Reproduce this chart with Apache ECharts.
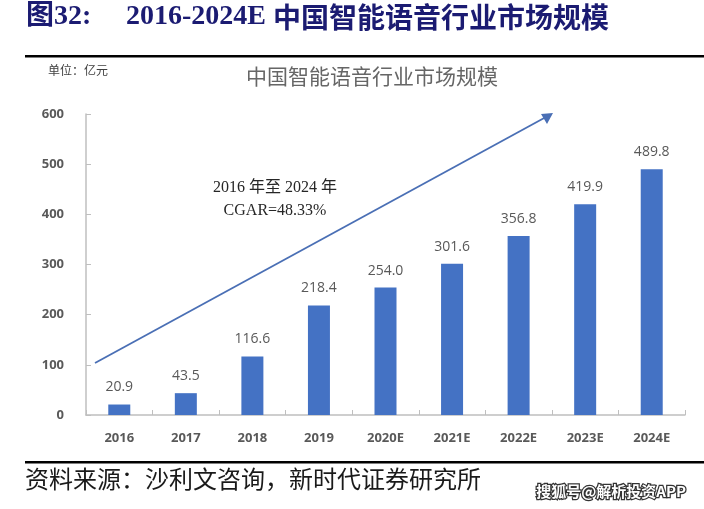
<!DOCTYPE html>
<html><head><meta charset="utf-8">
<script src="https://cdn.jsdelivr.net/npm/echarts@6/dist/echarts.min.js"></script>
<style>html,body{margin:0;padding:0;background:#fff}#c{width:704px;height:509px}</style>
</head><body><div id="c"></div>
<script>
const categories = ['2016','2017','2018','2019','2020E','2021E','2022E','2023E','2024E'];
const values = [20.9, 43.5, 116.6, 218.4, 254.0, 301.6, 356.8, 419.9, 489.8];
const yTicks = [0, 100, 200, 300, 400, 500, 600];

const chart = echarts.init(document.getElementById('c'));
chart.setOption({
  backgroundColor: '#fff',
  animation: false,
  grid: {left: 86, right: 19, top: 114, bottom: 94},
  xAxis: {
    type: 'category', data: categories,
    axisLine: {lineStyle: {color: '#bfbfbf', width: 1.5}},
    axisTick: {show: true, inside: true, length: 5, lineStyle: {color: '#bfbfbf'}},
    axisLabel: {color: '#595959', fontWeight: 'bold', fontSize: 13, margin: 17, fontFamily: 'Open Sans, Noto Sans, sans-serif'}
  },
  yAxis: {
    type: 'value', min: 0, max: 600, interval: 100,
    axisLine: {show: true, lineStyle: {color: '#bfbfbf', width: 1.5}},
    axisTick: {show: true, inside: true, length: 5, lineStyle: {color: '#bfbfbf'}},
    splitLine: {show: false},
    axisLabel: {color: '#595959', fontWeight: 'bold', fontSize: 13, margin: 22, fontFamily: 'Open Sans, Noto Sans, sans-serif',
      formatter: v => yTicks.includes(v) ? String(v) : ''}
  },
  series: [{
    type: 'bar', data: values, barWidth: 22,
    itemStyle: {color: '#4472c4'},
    label: {show: true, position: 'top', distance: 10, color: '#595959', fontSize: 14,
      fontFamily: 'Open Sans, Noto Sans, sans-serif', formatter: p => p.value.toFixed(1)}
  }],
  graphic: [
    {type: 'text', left: 26, top: 3, style: {
      text: '{a|图32:}{b|2016-2024E }{c|中国智能语音行业市场规模}',
      rich: {
        a: {fill: '#1b1b72', font: 'bold 28px "Liberation Serif", "Noto Sans CJK SC", serif', width: 100},
        b: {fill: '#1b1b72', font: 'bold 28px "Liberation Serif", serif'},
        c: {fill: '#1b1b72', font: 'bold 28px "Noto Sans CJK SC", sans-serif'}
      }}},
    {type: 'rect', shape: {x: 25, y: 55, width: 679, height: 2.5}, style: {fill: '#000'}},
    {type: 'text', left: 48, top: 64, style: {text: '单位：亿元', fill: '#404040', font: '12px "Noto Sans CJK SC", sans-serif'}},
    {type: 'text', x: 372, y: 76, style: {text: '中国智能语音行业市场规模', fill: '#666', align: 'center', verticalAlign: 'middle',
      font: '21px "Noto Sans CJK SC", sans-serif'}},
    {type: 'text', x: 275, y: 188, style: {text: '2016 年至 2024 年', fill: '#262626', align: 'center', verticalAlign: 'middle',
      font: '16px "Liberation Serif", "Noto Sans CJK SC", serif'}},
    {type: 'text', x: 275, y: 211, style: {text: 'CGAR=48.33%', fill: '#262626', align: 'center', verticalAlign: 'middle',
      font: '16px "Liberation Serif", serif'}},
    {type: 'line', shape: {x1: 95, y1: 363, x2: 546, y2: 117}, style: {stroke: '#4a6fb5', lineWidth: 1.8}},
    {type: 'polygon', shape: {points: [[553, 113], [541, 114], [547, 124]]}, style: {fill: '#4a6fb5'}},
    {type: 'rect', shape: {x: 25, y: 461, width: 679, height: 2.5}, style: {fill: '#000'}},
    {type: 'text', left: 25, top: 467, style: {text: '资料来源：沙利文咨询，新时代证券研究所', fill: '#1a1a1a',
      font: '24px "Noto Sans CJK SC", sans-serif'}},
    {type: 'text', left: 535, top: 483, style: {text: '搜狐号@解析投资APP', fill: '#fff', stroke: '#333', lineWidth: 2.5,
      font: 'bold 15px "Noto Sans CJK SC", sans-serif'}}
  ]
});
</script></body></html>
